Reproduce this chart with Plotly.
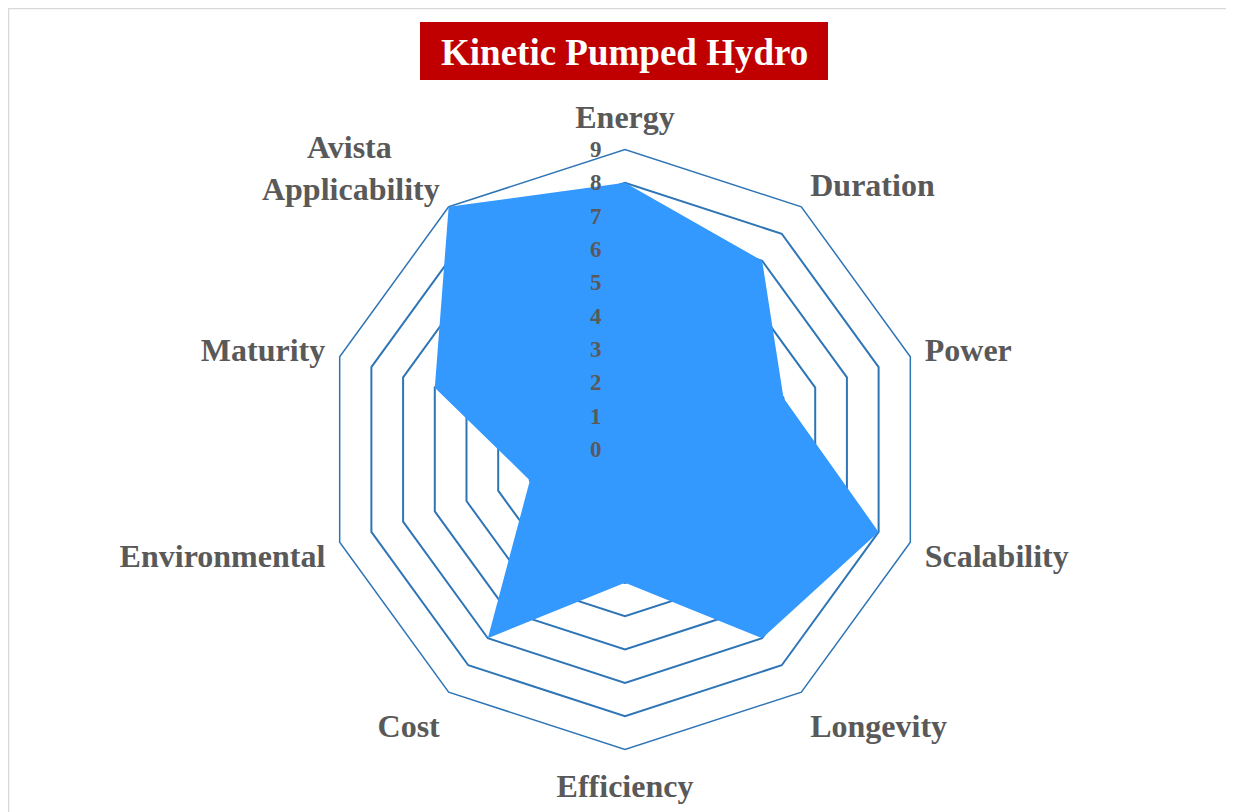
import plotly.graph_objects as go

categories = ["Energy", "Duration", "Power", "Scalability", "Longevity", "Efficiency",
              "Cost", "Environmental", "Maturity",
              "Avista" + "\u00a0" * 6 + "<br>Applicability"]
values = [8, 7, 5, 8, 7, 4, 7, 3, 6, 9]
radial_ticks = [0, 1, 2, 3, 4, 5, 6, 7, 8, 9]
title_text = "Kinetic Pumped Hydro"

W, H = 1234, 812
# page is offset by 8px body margin; coordinates below are figure coords
cx, cy, R = 617, 441.5, 300

fig = go.Figure()
fig.add_trace(go.Scatterpolar(
    r=values + values[:1],
    theta=categories + categories[:1],
    mode="lines",
    fill="toself",
    fillcolor="#3399FF",
    line=dict(color="#3399FF", width=0),
    showlegend=False,
    hoverinfo="skip",
))

font_family = "Liberation Serif"
fig.update_layout(
    width=W, height=H,
    margin=dict(l=0, r=0, t=0, b=0),
    paper_bgcolor="white",
    plot_bgcolor="white",
    polar=dict(
        domain=dict(x=[(cx - R) / W, (cx + R) / W], y=[(H - cy - R) / H, (H - cy + R) / H]),
        gridshape="linear",
        bgcolor="white",
        radialaxis=dict(
            range=[0, 9],
            tickvals=radial_ticks,
            ticktext=[str(v) for v in radial_ticks],
            angle=90,
            tickangle=90,
            side="counterclockwise",
            showline=False,
            showgrid=True,
            gridcolor="#2E75B6",
            gridwidth=1.5,
            ticks="outside",
            ticklen=15,
            tickcolor="rgba(0,0,0,0)",
            tickfont=dict(family=font_family, size=23, color="#595959", weight="bold"),
            layer="above traces",
        ),
        angularaxis=dict(
            direction="clockwise",
            rotation=90,
            showgrid=False,
            showline=True,
            linecolor="#2E75B6",
            linewidth=1.5,
            ticks="outside",
            ticklen=8,
            tickcolor="rgba(0,0,0,0)",
            tickfont=dict(family=font_family, size=32, color="#595959", weight="bold"),
            layer="below traces",
        ),
    ),
    annotations=[dict(
        text="<b>" + title_text + "</b>",
        x=616 / W, y=(H - 44) / H, xref="paper", yref="paper",
        xanchor="center", yanchor="middle",
        showarrow=False,
        font=dict(family=font_family, size=37, color="white"),
    )],
    shapes=[
        dict(
            type="rect", xref="paper", yref="paper",
            x0=0.5 / W, x1=1.05, y0=-0.05, y1=(H - 0.5) / H,
            line=dict(color="#D9D9D9", width=1.5),
            fillcolor="rgba(0,0,0,0)",
            layer="below",
        ),
        dict(
            type="rect", xref="paper", yref="paper",
            x0=412 / W, x1=820 / W, y0=(H - 72) / H, y1=(H - 14) / H,
            line=dict(width=0),
            fillcolor="#C00000",
            layer="below",
        ),
    ],
)

fig.write_html("out.html")
